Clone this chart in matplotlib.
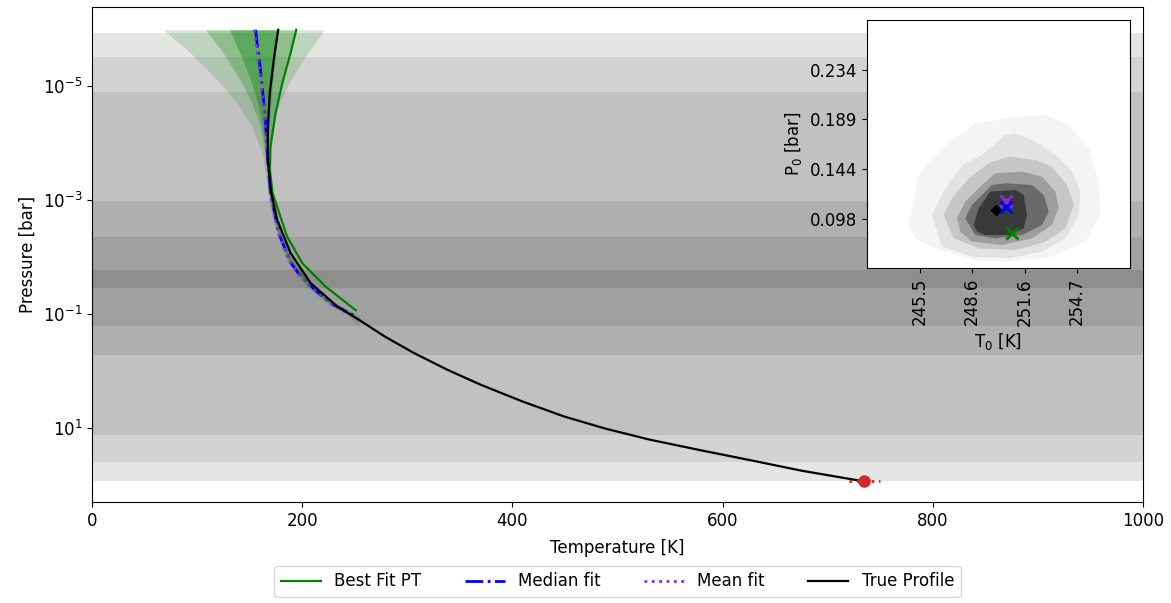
import numpy as np
import matplotlib
matplotlib.use('Agg')
import matplotlib.pyplot as plt

# gray contribution bands: (log10 P top, log10 P bottom, colour)
band_top = [-5.92, -5.50, -4.89, -2.99, -2.36, -1.77]
band_bot = [1.93, 1.59, 1.11, -0.29, -0.785, -1.457]
band_col = ['#e5e5e5', '#d3d3d3', '#c1c1c1', '#b0b0b0', '#a0a0a0', '#8e8e8e']

# true profile
true_T = [177.1, 172.9, 169.1, 167.2, 167.2, 170.5, 176.2, 188.9, 207.9, 233.3,
          253.9, 278.5, 306.3, 338.1, 369.8, 409.5, 449.1, 488.9, 530.0,
          579.4, 627.0, 674.6, 734.9]
true_logP = [-5.981, -5.455, -4.872, -4.229, -3.704, -3.121, -2.653, -2.070, -1.545, -1.135,
             -0.902, -0.609, -0.319, -0.026, 0.236, 0.529, 0.792, 1.007, 1.195,
             1.385, 1.560, 1.740, 1.930]

# best fit
best_T = [194.3, 188.9, 181.0, 174.6, 169.8, 169.1, 171.8, 185.5, 200.0, 222.0, 250.95]
best_logP = [-5.981, -5.573, -5.047, -4.522, -3.937, -3.529, -3.121, -2.361, -1.895, -1.485, -1.068]

# median fit
med_T = [155.5, 160.3, 165.0, 166.7, 169.8, 178.0, 189.0, 197.0, 212.0, 227.0, 250.6]
med_logP = [-5.981, -5.280, -4.405, -3.821, -3.121, -2.40, -1.90, -1.70, -1.43, -1.19, -0.966]

# mean fit
mean_T = [154.5, 159.5, 164.5, 166.4, 169.6, 177.8, 188.8, 196.8, 211.8, 226.8, 250.6]
mean_logP = [-5.981, -5.280, -4.405, -3.821, -3.121, -2.40, -1.90, -1.70, -1.43, -1.19, -0.94]

# posterior envelopes
env3_logP = [-5.98, -5.57, -5.1, -4.7, -4.29, -3.82, -3.41, -3.0, -2.5, -2.0, -1.5, -1.2, -0.97, -0.76]
env3_lo = [68, 94, 119, 138, 152, 162, 165.5, 168, 173.8, 183.5, 203, 222.5, 245, 253.6]
env3_hi = [221, 205, 189, 178, 172.5, 170, 170.5, 173, 179.8, 190.5, 211, 231.5, 255, 253.6]
env_logP = [-5.98, -5.57, -5.1, -4.7, -4.29, -3.82, -3.41, -3.0, -2.5, -2.0, -1.5, -1.2, -1.05, -0.9]
env2_lo = [108, 125, 141, 152, 160, 164.5, 166.8, 169, 175.3, 185.3, 204.8, 224.5, 238, 252]
env2_hi = [195, 187, 180, 175, 171, 169, 169.5, 172, 178.3, 188.8, 209.3, 229.5, 244, 252]
env1_lo = [130.8, 141, 151, 157.5, 162, 165.3, 167.4, 169.7, 176, 186, 206, 226, 240, 251]
env1_hi = [177, 174.5, 172, 170, 168.5, 168, 169, 171.3, 177.6, 188, 208, 228, 242, 251]

# surface point
surf_T = 734.9
surf_logP = 1.93
surf_err = 15

# inset posterior (T0, P0) contour polygons, outer to inner
lev_T = [
    [244.87, 245.46, 246.24, 247.61, 248.79, 250.55, 252.90, 254.27, 255.45, 256.03, 256.13, 255.25, 253.29, 250.55, 248.59, 246.44, 245.26],
    [246.24, 247.03, 248.01, 249.18, 250.55, 251.14, 252.31, 253.49, 254.47, 254.96, 254.86, 254.08, 252.71, 250.75, 248.59, 246.83],
    [246.93, 247.42, 248.40, 249.57, 250.75, 252.31, 253.29, 254.17, 254.57, 254.08, 252.90, 251.14, 248.99, 247.52],
    [247.71, 248.20, 249.18, 249.96, 251.53, 252.71, 253.49, 253.68, 253.29, 252.12, 250.36, 248.59, 247.91],
    [248.20, 248.59, 249.77, 250.55, 252.12, 252.80, 253.10, 252.71, 251.53, 249.96, 248.79],
    [248.69, 248.99, 249.67, 251.14, 251.63, 251.82, 251.63, 250.75, 249.38, 248.89],
]
lev_P = [
    [0.0930, 0.1383, 0.1534, 0.1715, 0.1851, 0.1896, 0.1926, 0.1836, 0.1624, 0.1322, 0.1020, 0.0779, 0.0643, 0.0598, 0.0613, 0.0718, 0.0809],
    [0.1020, 0.1262, 0.1473, 0.1564, 0.1745, 0.1760, 0.1685, 0.1564, 0.1413, 0.1232, 0.1020, 0.0809, 0.0688, 0.0628, 0.0643, 0.0734],
    [0.1020, 0.1171, 0.1353, 0.1489, 0.1549, 0.1519, 0.1458, 0.1292, 0.1111, 0.0900, 0.0779, 0.0703, 0.0718, 0.0809],
    [0.0990, 0.1141, 0.1292, 0.1398, 0.1413, 0.1368, 0.1232, 0.1081, 0.0930, 0.0809, 0.0749, 0.0779, 0.0869],
    [0.0990, 0.1111, 0.1292, 0.1307, 0.1292, 0.1202, 0.1051, 0.0930, 0.0839, 0.0809, 0.0839],
    [0.0930, 0.1081, 0.1232, 0.1247, 0.1202, 0.1020, 0.0900, 0.0839, 0.0839, 0.0869],
]
lev_col = ['#f4f4f4', '#e2e2e2', '#c6c6c6', '#9e9e9e', '#6a6a6a', '#393939']

true_pt = (250.02, 0.1065)
mean_pt = (250.58, 0.1149)
med_pt = (250.61, 0.1095)
best_pt = (250.95, 0.0854)

in_xticks = [245.52, 248.60, 251.69, 254.77]
in_xlabels = ['245.5', '248.6', '251.6', '254.7']
in_yticks = [0.0987, 0.1437, 0.1887, 0.2337]
in_ylabels = ['0.098', '0.144', '0.189', '0.234']

plt.rcParams['font.size'] = 12

fig = plt.figure(figsize=(11.71, 6.03), dpi=100)
ax = fig.add_axes([0.0786, 0.1675, 0.8975, 0.8209])

for t, b, c in zip(band_top, band_bot, band_col):
    ax.axhspan(10**t, 10**b, color=c, lw=0, zorder=0)

ax.fill_betweenx(10**np.array(env3_logP), env3_lo, env3_hi, color='green', alpha=0.17, lw=0, zorder=1)
ax.fill_betweenx(10**np.array(env_logP), env2_lo, env2_hi, color='green', alpha=0.25, lw=0, zorder=1)
ax.fill_betweenx(10**np.array(env_logP), env1_lo, env1_hi, color='green', alpha=0.35, lw=0, zorder=1)

ax.plot(best_T, 10**np.array(best_logP), color='green', lw=1.6, label='Best Fit PT', zorder=3)
ax.plot(med_T, 10**np.array(med_logP), color='blue', ls='-.', lw=2, label='Median fit', zorder=3)
ax.plot(mean_T, 10**np.array(mean_logP), color='blueviolet', ls=':', lw=2, label='Mean fit', zorder=3)
ax.plot(true_T, 10**np.array(true_logP), color='black', lw=1.6, label='True Profile', zorder=4)

ax.plot([surf_T - surf_err, surf_T + surf_err], [10**surf_logP]*2, ls=':', color='tab:red', lw=2, zorder=5)
ax.plot(surf_T, 10**surf_logP, 'o', color='tab:red', ms=8, zorder=5)

ax.set_yscale('log')
ax.set_ylim(10**2.29, 10**-6.38)
ax.set_yticks([1e-5, 1e-3, 1e-1, 1e1])
ax.yaxis.set_minor_locator(matplotlib.ticker.NullLocator())
ax.set_xlim(0, 1000)
ax.set_xticks(np.arange(0, 1001, 200))
ax.set_xlabel('Temperature [K]', labelpad=7)
ax.set_ylabel('Pressure [bar]')

ax.legend(loc='upper center', bbox_to_anchor=(0.5, -0.112), ncol=4, fontsize=12,
          handlelength=2.4, columnspacing=2.6)

# inset
axi = fig.add_axes([0.7404, 0.555, 0.2243, 0.4118])
axi.set_facecolor('white')
for xs, ys, c in zip(lev_T, lev_P, lev_col):
    axi.fill(xs, ys, color=c, lw=0)
axi.plot(*true_pt, 'D', color='black', ms=5)
axi.plot(*mean_pt, 'x', color='blueviolet', ms=8, mew=2)
axi.plot(*med_pt, 'x', color='blue', ms=8, mew=2)
axi.plot(*best_pt, 'x', color='green', ms=8, mew=2)
axi.set_xlim(242.43, 257.85)
axi.set_ylim(0.0537, 0.2787)
axi.set_xticks(in_xticks)
axi.set_xticklabels(in_xlabels, rotation=90)
axi.set_yticks(in_yticks)
axi.set_yticklabels(in_ylabels)
axi.set_xlabel('T$_0$ [K]')
axi.set_ylabel('P$_0$ [bar]')

fig.savefig('out.png', dpi=100)
